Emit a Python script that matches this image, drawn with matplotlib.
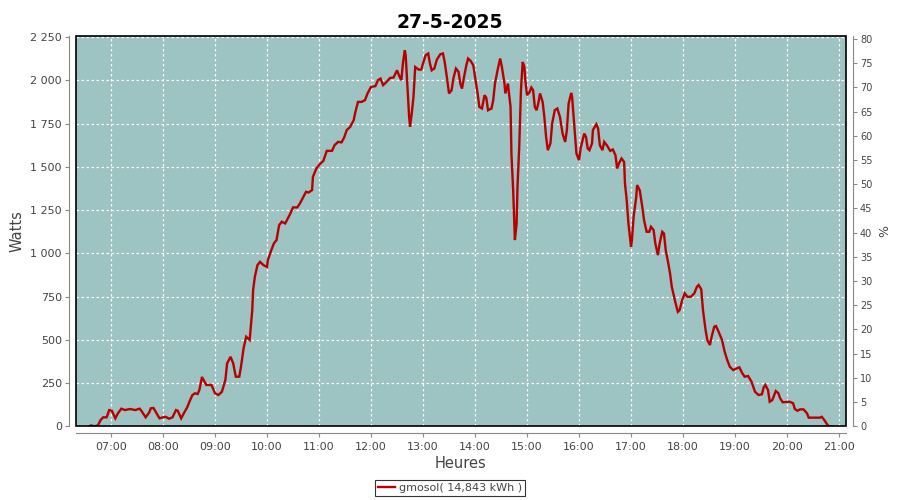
import matplotlib
matplotlib.use("Agg")
import matplotlib.pyplot as plt
import matplotlib.ticker as mticker
from matplotlib.patches import Rectangle
import numpy as np

title = "27-5-2025"
series_name = "gmosol( 14,843 kWh )"

times = [
    "06:35", "06:37", "06:41", "06:45", "06:48", "06:51", "06:55", "06:58", "07:01", "07:05",
    "07:08", "07:12", "07:16", "07:22", "07:28", "07:33", "07:35", "07:40", "07:44", "07:46",
    "07:49", "07:53", "07:56", "08:00", "08:03", "08:07", "08:11", "08:15", "08:17", "08:21",
    "08:24", "08:28", "08:31", "08:34", "08:37", "08:40", "08:42", "08:45", "08:50", "08:56",
    "09:00", "09:04", "09:08", "09:12", "09:14", "09:18", "09:21", "09:24", "09:28", "09:30",
    "09:33", "09:36", "09:40", "09:41", "09:43", "09:44", "09:46", "09:49", "09:52", "09:56",
    "10:00", "10:01", "10:05", "10:08", "10:11", "10:14", "10:17", "10:21", "10:23", "10:27",
    "10:30", "10:35", "10:38", "10:41", "10:45", "10:48", "10:52", "10:53", "10:57", "11:01",
    "11:05", "11:09", "11:15", "11:18", "11:22", "11:26", "11:29", "11:32", "11:36", "11:40",
    "11:42", "11:45", "11:49", "11:53", "11:56", "12:00", "12:05", "12:08", "12:11", "12:14",
    "12:18", "12:22", "12:26", "12:30", "12:33", "12:35", "12:37", "12:39", "12:40", "12:42",
    "12:44", "12:45", "12:47", "12:49", "12:51", "12:55", "12:58", "13:00", "13:03", "13:06",
    "13:08", "13:10", "13:13", "13:16", "13:20", "13:23", "13:25", "13:28", "13:30", "13:33",
    "13:35", "13:38", "13:41", "13:43", "13:45", "13:47", "13:50", "13:52", "13:55", "13:58",
    "14:00", "14:03", "14:05", "14:08", "14:11", "14:13", "14:15", "14:19", "14:21", "14:23",
    "14:26", "14:29", "14:31", "14:34", "14:35", "14:38", "14:39", "14:41", "14:42", "14:44",
    "14:46", "14:48", "14:49", "14:51", "14:53", "14:55", "14:57", "14:58", "15:00", "15:03",
    "15:05", "15:07", "15:09", "15:11", "15:13", "15:15", "15:18", "15:20", "15:22", "15:24",
    "15:27", "15:29", "15:32", "15:35", "15:38", "15:41", "15:44", "15:46", "15:48", "15:51",
    "15:52", "15:55", "15:57", "16:00", "16:02", "16:06", "16:08", "16:10", "16:12", "16:15",
    "16:16", "16:20", "16:22", "16:24", "16:27", "16:29", "16:32", "16:36", "16:39", "16:42",
    "16:44", "16:46", "16:49", "16:52", "16:53", "16:55", "16:57", "17:00", "17:01", "17:03",
    "17:06", "17:07", "17:10", "17:13", "17:15", "17:18", "17:21", "17:23", "17:26", "17:28",
    "17:31", "17:33", "17:36", "17:38", "17:40", "17:43", "17:45", "17:47", "17:50", "17:51",
    "17:54", "17:56", "17:59", "18:02", "18:05", "18:09", "18:13", "18:16", "18:18", "18:21",
    "18:23", "18:26", "18:28", "18:31", "18:33", "18:36", "18:38", "18:41", "18:45", "18:48",
    "18:51", "18:54", "18:58", "19:02", "19:05", "19:08", "19:11", "19:15", "19:19", "19:23",
    "19:27", "19:31", "19:33", "19:35", "19:38", "19:40", "19:43", "19:47", "19:50", "19:52",
    "19:55", "20:03", "20:07", "20:09", "20:12", "20:15", "20:19", "20:23", "20:25", "20:38",
    "20:40", "20:43", "20:46", "20:48", "20:52",
]

watts = [
    0, 5, 0, 5, 36, 52, 52, 94, 90, 46,
    75, 102, 94, 100, 94, 102, 90, 52, 79, 104,
    106, 71, 46, 52, 55, 44, 52, 94, 90, 46,
    75, 110, 148, 181, 191, 187, 210, 285, 239, 239,
    191, 181, 200, 268, 364, 402, 364, 287, 287, 344,
    451, 518, 499, 557, 672, 788, 865, 932, 951, 932,
    922, 961, 1019, 1058, 1077, 1163, 1183, 1173, 1192, 1231,
    1266, 1266, 1289, 1318, 1356, 1352, 1366, 1443, 1491, 1516,
    1535, 1593, 1593, 1626, 1645, 1642, 1670, 1713, 1732, 1770,
    1818, 1876, 1876, 1886, 1925, 1963, 1967, 2002, 2011, 1973,
    1992, 2015, 2017, 2059, 2021, 2002, 2107, 2175, 2146, 1963,
    1789, 1732, 1809, 1905, 2078, 2063, 2063, 2098, 2146, 2156,
    2098, 2059, 2069, 2121, 2152, 2156, 2107, 2002, 1925, 1944,
    2011, 2069, 2050, 1982, 1953, 2011, 2088, 2127, 2113, 2088,
    2021, 1925, 1847, 1838, 1915, 1900, 1828, 1838, 1886, 1982,
    2059, 2127, 2078, 1982, 1925, 1982, 1934, 1847, 1578, 1366,
    1077, 1173, 1385, 1616, 1944, 2107, 2078, 2002, 1915, 1934,
    1959, 1944, 1847, 1828, 1867, 1925, 1876, 1789, 1674, 1597,
    1636, 1751, 1828, 1838, 1789, 1693, 1645, 1713, 1867, 1928,
    1905, 1713, 1578, 1539, 1612, 1693, 1674, 1607, 1597, 1636,
    1713, 1747, 1722, 1626, 1597, 1645, 1626, 1593, 1601, 1568,
    1491, 1520, 1549, 1529, 1405, 1308, 1173, 1038, 1077, 1212,
    1327, 1395, 1366, 1269, 1192, 1125, 1125, 1154, 1135, 1058,
    990, 1058, 1125, 1115, 1019, 942, 884, 807, 740, 720,
    662, 672, 730, 769, 749, 749, 769, 807, 817, 792,
    672, 557, 499, 470, 518, 576, 580, 547, 499, 431,
    383, 344, 325, 335, 341, 310, 287, 291, 258, 200,
    181, 185, 225, 239, 210, 142, 152, 204, 191, 162,
    139, 142, 133, 100, 90, 98, 98, 75, 50, 50,
    55, 36, 13, 0, 0,
]

hour_ticks = list(range(7, 22))
watt_ticks = list(range(0, 2251, 250))
pct_ticks = list(range(0, 81, 5))


def to_hours(s):
    h, m = s.split(":")
    return int(h) + int(m) / 60.0


x = np.array([to_hours(t) for t in times])
y = np.array(watts, dtype=float)

fig = plt.figure(figsize=(9, 5), dpi=100)
fig.patch.set_facecolor("white")
ax = fig.add_axes([0.0841, 0.1474, 0.8559, 0.7812])
ax.set_facecolor("#9dc3c2")

ax.plot(x, y, color="#b80000", linewidth=1.7, label=series_name, zorder=3,
        solid_joinstyle="miter")

ymax = 2259
ax.set_xlim(6 + 19.3 / 60, 21 + 8 / 60)
ax.set_ylim(0, ymax)

ax.set_xticks(hour_ticks)
ax.xaxis.set_major_formatter(mticker.FuncFormatter(lambda v, p: "%02d:00" % int(round(v))))
ax.set_yticks(watt_ticks)
ax.yaxis.set_major_formatter(
    mticker.FuncFormatter(lambda v, p: "{:,}".format(int(v)).replace(",", " ")))

ax.grid(True, color="white", linestyle=(0, (2, 2)), linewidth=0.9, zorder=1)

for s in ["top", "right", "left", "bottom"]:
    ax.spines[s].set_visible(False)
ax.add_patch(Rectangle((0, 0), 1, 1, transform=ax.transAxes, fill=False,
                       edgecolor="black", linewidth=1.2, zorder=5, clip_on=False))
ax.spines["left"].set_visible(True)
ax.spines["left"].set_position(("outward", 5))
ax.spines["left"].set_color("#888888")
ax.spines["bottom"].set_visible(True)
ax.spines["bottom"].set_position(("outward", 5))
ax.spines["bottom"].set_color("#888888")

ax.tick_params(axis="both", colors="#888888", labelcolor="#444444", labelsize=8,
               length=3, width=0.8, direction="out")
ax.tick_params(axis="y", pad=2)

ax.set_ylabel("Watts", fontsize=10.5, color="#444444", labelpad=4)
ax.set_xlabel("Heures", fontsize=10.5, color="#444444", labelpad=3)

ax2 = ax.twinx()
ax2.set_ylim(0, 80.7)
ax2.set_yticks(pct_ticks)
for s in ["top", "left", "bottom"]:
    ax2.spines[s].set_visible(False)
ax2.spines["right"].set_position(("outward", 5))
ax2.spines["right"].set_color("#888888")
ax2.tick_params(axis="y", colors="#888888", labelcolor="#444444", labelsize=7,
                length=3, width=0.8, pad=2)
ax2.set_ylabel("%", fontsize=9, color="#444444", labelpad=4)

fig.suptitle(title, fontsize=13.5, fontweight="bold", y=0.975)

leg = fig.legend(handles=ax.get_lines(), loc="center", bbox_to_anchor=(0.5, 0.024),
                 frameon=True, fancybox=False, fontsize=8, handlelength=1.5,
                 handletextpad=0.4, borderpad=0.3)
leg.get_frame().set_edgecolor("black")
leg.get_frame().set_linewidth(0.8)
for t in leg.get_texts():
    t.set_color("#444444")

fig.savefig("out.png", dpi=100)
